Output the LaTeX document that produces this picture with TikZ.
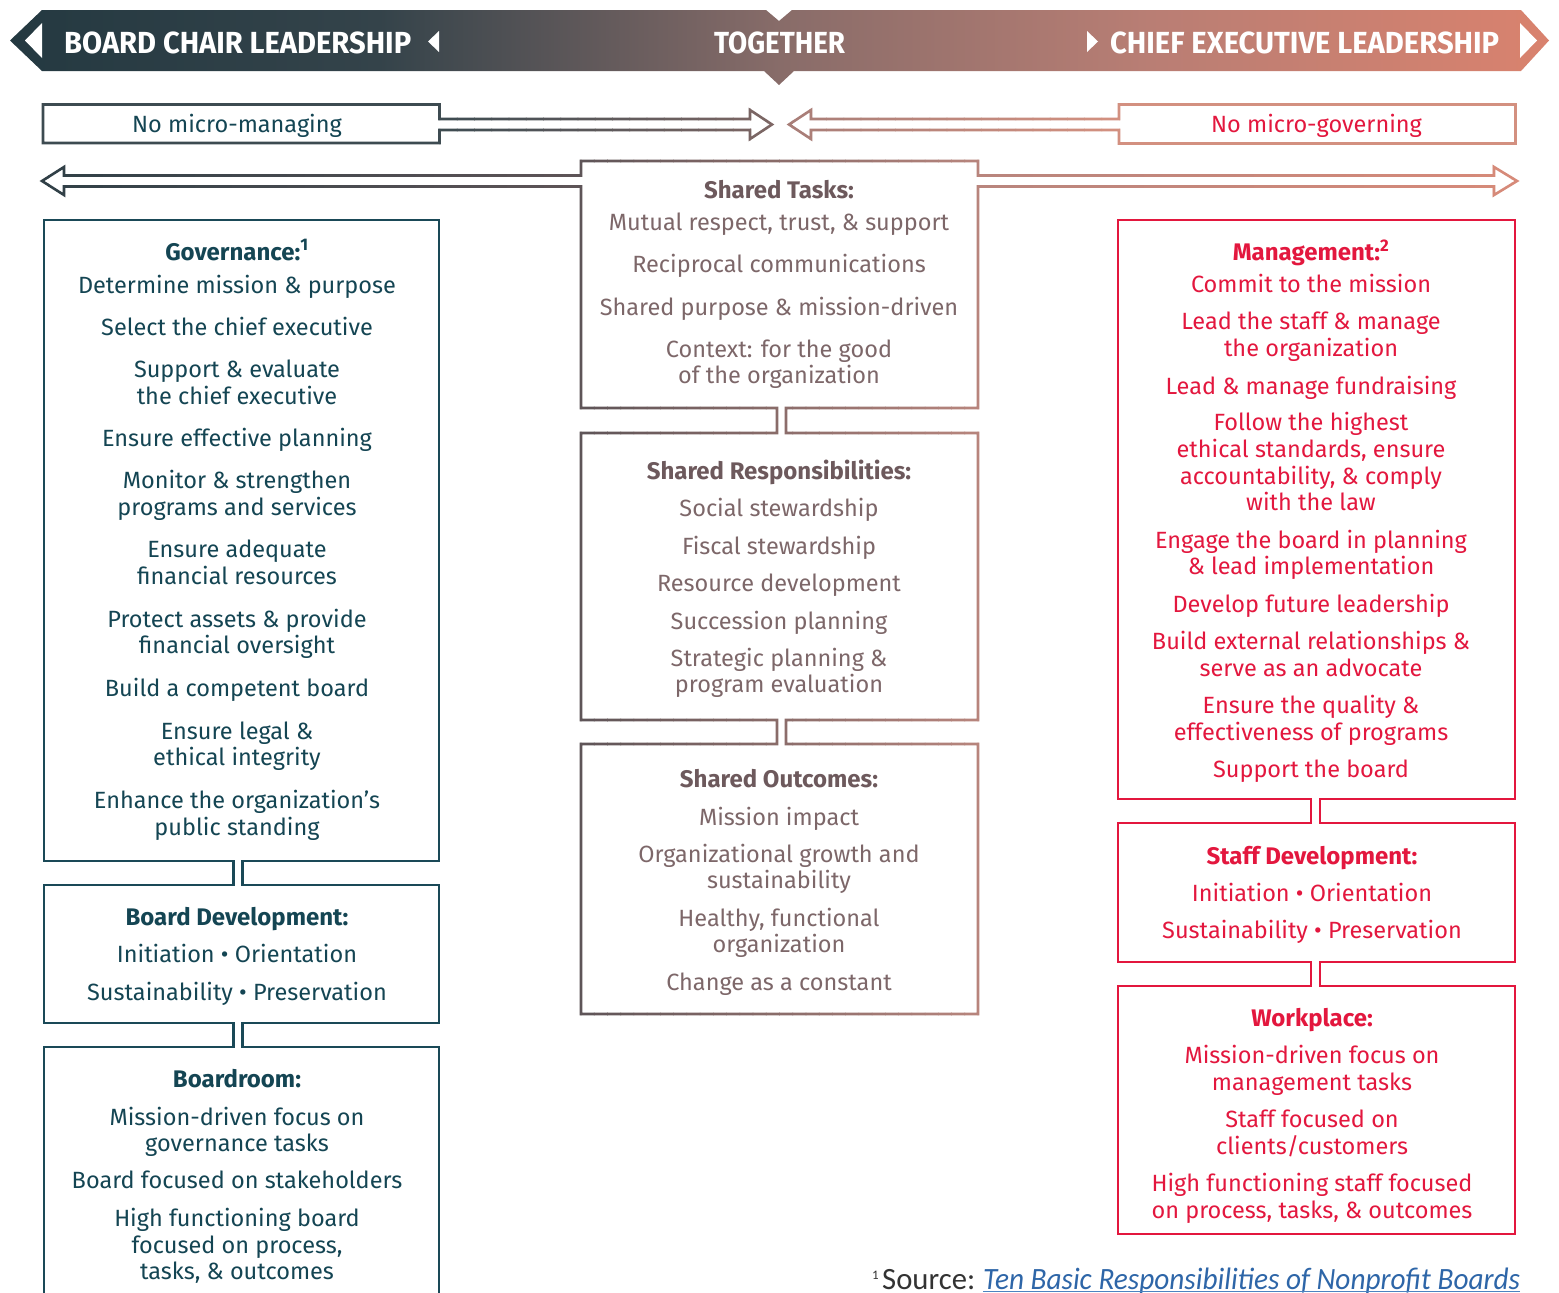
\documentclass[tikz,border=0pt]{standalone}
\usepackage{fontspec}
\usepackage{graphicx}
\newfontfamily\bodyf{Fira Sans}
\newfontfamily\notef{Carlito}

\definecolor{tealC}{HTML}{144553}
\definecolor{tealL}{HTML}{1A4957}
\definecolor{redC}{HTML}{E3173E}
\definecolor{mauveT}{HTML}{7D6769}
\definecolor{mauveH}{HTML}{6D595C}
\definecolor{cLtip}{HTML}{2F3F46}
\definecolor{cL}{HTML}{5E5457}
\definecolor{cR}{HTML}{B8857D}
\definecolor{cRtip}{HTML}{D88A79}
\definecolor{aL1}{HTML}{3D4B51}
\definecolor{aL2}{HTML}{806865}
\definecolor{aR1}{HTML}{A67D77}
\definecolor{aR2}{HTML}{D39080}
\definecolor{bA}{HTML}{243941}
\definecolor{bB}{HTML}{34434A}
\definecolor{bC}{HTML}{886C69}
\definecolor{bD}{HTML}{B97E74}
\definecolor{bE}{HTML}{D9826E}
\definecolor{srcC}{HTML}{333333}
\definecolor{linkC}{HTML}{2E66A8}
\definecolor{ulC}{HTML}{4C83C0}

\pgfdeclarehorizontalshading{banner}{100bp}{color(0bp)=(bA); color(25bp)=(bA); color(37bp)=(bB); color(50bp)=(bC); color(62bp)=(bD); color(75bp)=(bE); color(100bp)=(bE)}

\newsavebox\fitbox
\newlength\fitlen
\newcommand\fitw[2]{\sbox\fitbox{#2}\setlength\fitlen{\wd\fitbox}\pgfmathsetmacro\fitsc{#1/\fitlen}\scalebox{\fitsc}[1]{\usebox\fitbox}}

% gradient stroke: path, x0, x1, colA, colB, N
\newcommand\gradseg[6]{%
  \pgfmathsetmacro\stp{(#3-#2)/#6}%
  \foreach \k in {1,...,#6}{%
    \pgfmathsetmacro\xa{#2+\stp*(\k-1)}%
    \pgfmathsetmacro\xb{#2+\stp*\k}%
    \pgfmathsetmacro\pc{100*(1-(\k-0.5)/#6)}%
    \begin{scope}\clip (\xa-0.3,0) rectangle (\xb+0.3,1300); \draw[outl, draw=#4!\pc!#5] #1; \end{scope}
  }}
\newcommand\constseg[4]{\begin{scope}\clip (#2,0) rectangle (#3,1300); \draw[outl, draw=#4] #1; \end{scope}}

\newcommand\textcol[4]{%
  \foreach \yy/\txt [count=\ii] in {#4}{\node[#3] (#1\ii) at (#2,\yy) {\txt};}}

\tikzset{
  outl/.style={line width=2.6pt, line join=miter},
  body/.style={anchor=base, inner sep=0pt, font=\bodyf\fontsize{23.5}{26}\selectfont},
  ttl/.style={anchor=base, inner sep=0pt, font=\bodyf\bfseries\fontsize{24}{26}\selectfont},
  hdr/.style={anchor=base, inner sep=0pt, text=white, font=\bodyf\bfseries\fontsize{30.5}{32}\selectfont},
}

\begin{document}
\begin{tikzpicture}[x=1pt, y=-1pt]
\useasboundingbox (0,0) rectangle (1559,1293);
\fill[white] (0,0) rectangle (1559,1293);
\clip (0,0) rectangle (1559,1293);

% ---------- banner ----------
\shade[shading=banner] (42,10) -- (766,10) -- (779,21) -- (792,10) -- (1521,10) -- (1549,40.5) -- (1521,71) -- (794,71) -- (779,85) -- (764,71) -- (42,71) -- (10,40.5) -- cycle;
\fill[white] (42,23) -- (25,40.5) -- (42,58) -- cycle;
\fill[white] (439,31) -- (428,41.5) -- (439,52) -- cycle;
\fill[white] (1087,31) -- (1098,41.5) -- (1087,52) -- cycle;
\fill[white] (1520,23) -- (1537,40.5) -- (1520,58) -- cycle;
\node[hdr, anchor=base west] (bcl) at (64,53) {\fitw{347}{BOARD CHAIR LEADERSHIP}};
\node[hdr] (tog) at (779.5,53) {\fitw{131}{TOGETHER}};
\node[hdr, anchor=base west] (cel) at (1110,53) {\fitw{389}{CHIEF EXECUTIVE LEADERSHIP}};

% ---------- top arrows ----------
\def\lpath{(43,104.5) -- (439.5,104.5) -- (439.5,119) -- (750,119) -- (750,110) -- (772,124.5) -- (750,139) -- (750,130) -- (439.5,130) -- (439.5,143) -- (43,143) -- cycle}
\constseg{\lpath}{0}{440}{aL1}
\gradseg{\lpath}{440}{785}{aL1}{aL2}{20}
\def\rpath{(1515.5,104.5) -- (1119,104.5) -- (1119,119) -- (811,119) -- (811,110) -- (789,124.5) -- (811,139) -- (811,130) -- (1119,130) -- (1119,143.5) -- (1515.5,143.5) -- cycle}
\gradseg{\rpath}{775}{1119}{aR1}{aR2}{20}
\constseg{\rpath}{1119}{1559}{aR2}
\node[body, text=tealC] (nmm) at (237,132.5) {No micro-managing};
\node[body, text=redC] (nmg) at (1316.5,132.5) {No micro-governing};

% ---------- centre column ----------
\def\cpath{(581,161) -- (978,161) -- (978,175.5) -- (1494,175.5) -- (1494,167) -- (1517,181) -- (1494,195) -- (1494,186.5) -- (978,186.5) -- (978,408) -- (786,408) -- (786,433) -- (978,433) -- (978,720) -- (786,720) -- (786,744) -- (978,744) -- (978,1014) -- (581,1014) -- (581,744) -- (777,744) -- (777,720) -- (581,720) -- (581,433) -- (777,433) -- (777,408) -- (581,408) -- (581,186.5) -- (64,186.5) -- (64,195) -- (42,181) -- (64,167) -- (64,175.5) -- (581,175.5) -- cycle}
\gradseg{\cpath}{30}{581}{cLtip}{cL}{30}
\gradseg{\cpath}{581}{978}{cL}{cR}{30}
\gradseg{\cpath}{978}{1530}{cR}{cRtip}{30}

% ---------- left column ----------
\draw[outl, draw=tealL] (44,220) -- (439,220) -- (439,861) -- (242.5,861) -- (242.5,885) -- (439,885) -- (439,1023) -- (242.5,1023) -- (242.5,1047) -- (439,1047) -- (439,1320) -- (44,1320) -- (44,1047) -- (233.5,1047) -- (233.5,1023) -- (44,1023) -- (44,885) -- (233.5,885) -- (233.5,861) -- (44,861) -- cycle;

% ---------- right column ----------
\draw[outl, draw=redC] (1118,220) -- (1515,220) -- (1515,799) -- (1320,799) -- (1320,823) -- (1515,823) -- (1515,962) -- (1320,962) -- (1320,986) -- (1515,986) -- (1515,1234) -- (1118,1234) -- (1118,986) -- (1311,986) -- (1311,962) -- (1118,962) -- (1118,823) -- (1311,823) -- (1311,799) -- (1118,799) -- cycle;

% ---------- left texts ----------
\node[ttl, text=tealC] (govT) at (237,260) {Governance:\textsuperscript{1}};
\textcol{gov}{237}{body, text=tealC}{293/Determine mission \& purpose, 335/Select the chief executive, 377/Support \& evaluate, 404/the chief executive, 446/Ensure effective planning, 488/Monitor \& strengthen, 515/programs and services, 557/Ensure adequate, 584/financial resources, 627/Protect assets \& provide, 653/financial oversight, 696/Build a competent board, 739/Ensure legal \&, 765/ethical integrity, 808/Enhance the organization’s, 835/public standing}
\node[ttl, text=tealC] (bdT) at (237,925) {Board Development:};
\textcol{bd}{237}{body, text=tealC}{962.5/Initiation • Orientation, 1000/Sustainability • Preservation}
\node[ttl, text=tealC] (brT) at (237,1087) {Boardroom:};
\textcol{br}{237}{body, text=tealC}{1125.5/Mission-driven focus on, 1151/governance tasks, 1188.5/Board focused on stakeholders, 1226.5/High functioning board, 1253/{focused on process,}, 1279/{tasks, \& outcomes}}

% ---------- centre texts ----------
\node[ttl, text=mauveH] (stT) at (779,198) {Shared Tasks:};
\textcol{st}{779}{body, text=mauveT}{230/{Mutual respect, trust, \& support}, 272/Reciprocal communications, 315/Shared purpose \& mission-driven, 357/Context: for the good, 383.5/of the organization}
\node[ttl, text=mauveH] (srT) at (779,479.5) {Shared Responsibilities:};
\textcol{sr}{779}{body, text=mauveT}{516.5/Social stewardship, 554/Fiscal stewardship, 591.5/Resource development, 629/Succession planning, 666.5/Strategic planning \&, 692.5/program evaluation}
\node[ttl, text=mauveH] (soT) at (779,787.5) {Shared Outcomes:};
\textcol{so}{779}{body, text=mauveT}{825/Mission impact, 862.5/Organizational growth and, 888.5/sustainability, 926/{Healthy, functional}, 952/organization, 990/Change as a constant}

% ---------- right texts ----------
\node[ttl, text=redC] (mgT) at (1311,260.5) {Management:\textsuperscript{2}};
\textcol{mg}{1311}{body, text=redC}{292.5/Commit to the mission, 329.5/Lead the staff \& manage, 356.5/the organization, 394/Lead \& manage fundraising, 430.5/Follow the highest, 457.5/{ethical standards, ensure}, 484/{accountability, \& comply}, 510.5/with the law, 548/Engage the board in planning, 574.5/\& lead implementation, 612/Develop future leadership, 649/Build external relationships \&, 676/serve as an advocate, 713/Ensure the quality \&, 740/effectiveness of programs, 777/Support the board}
\node[ttl, text=redC] (sdT) at (1312,864) {Staff Development:};
\textcol{sd}{1312}{body, text=redC}{901.5/Initiation • Orientation, 938.5/Sustainability • Preservation}
\node[ttl, text=redC] (wpT) at (1312,1026) {Workplace:};
\textcol{wp}{1312}{body, text=redC}{1063/Mission-driven focus on, 1090/management tasks, 1127/Staff focused on, 1154/{clients/customers}, 1191/High functioning staff focused, 1218/{on process, tasks, \& outcomes}}

% ---------- footnote ----------
\node[anchor=base east, inner sep=0pt, text=srcC, font=\notef\fontsize{13}{14}\selectfont] (fn1) at (879,1279) {1};
\node[anchor=base west, inner sep=0pt, text=srcC, font=\notef\fontsize{31}{33}\selectfont] (src) at (882,1289) {\fitw{93}{Source:}};
\node[anchor=base west, inner sep=0pt, text=linkC, font=\notef\itshape\fontsize{31}{33}\selectfont] (ttl) at (983,1289) {\fitw{537}{Ten Basic Responsibilities of Nonprofit Boards}};
\draw[ulC, line width=1.5pt] ([yshift=-2.5pt]ttl.base west) -- ([yshift=-2.5pt]ttl.base east);
\end{tikzpicture}
\end{document}
